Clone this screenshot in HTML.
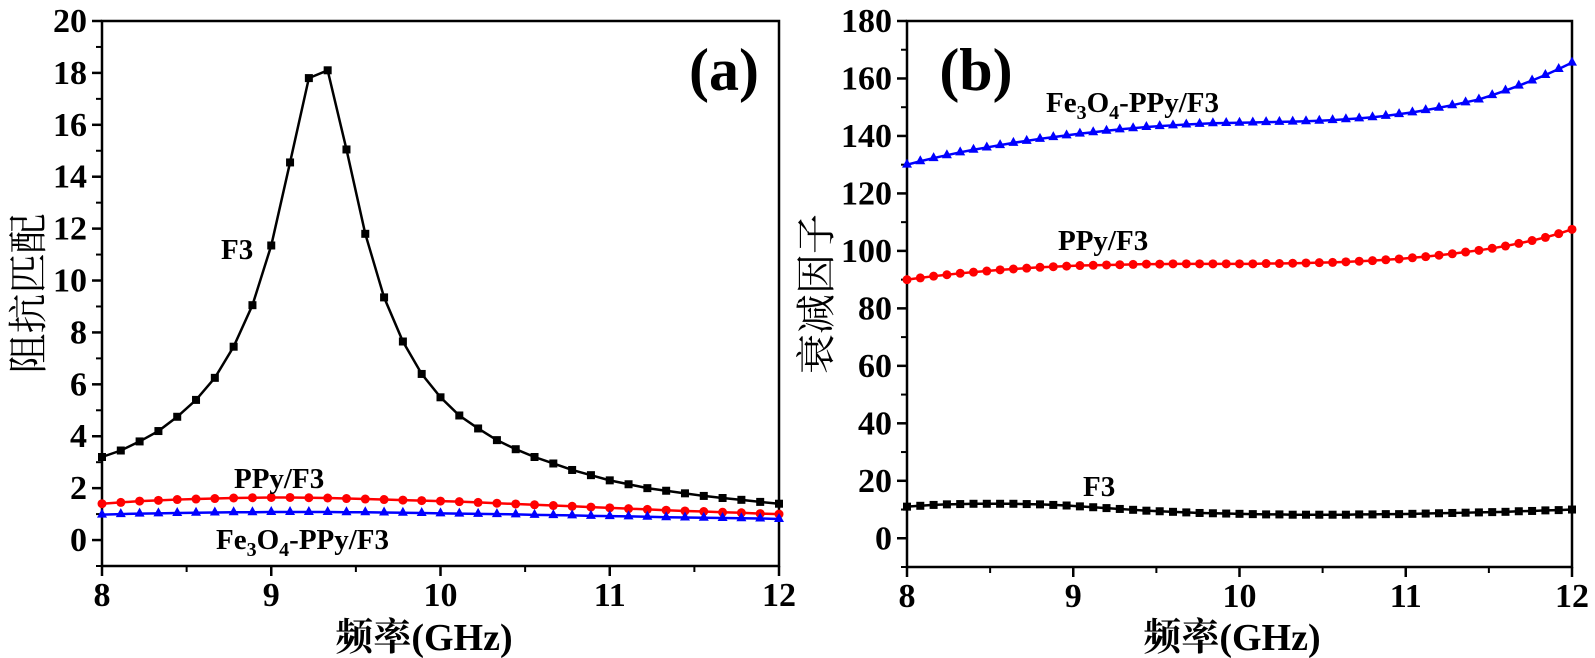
<!DOCTYPE html>
<html><head><meta charset="utf-8">
<style>
html,body{margin:0;padding:0;background:#fff;}
svg{display:block;}
text{font-family:"Liberation Serif","Noto Serif CJK SC",serif;}
</style></head>
<body>
<svg id="fig" width="1595" height="658" viewBox="0 0 1595 658" xmlns="http://www.w3.org/2000/svg"></svg>
<script>
// ---- data (a) ----
const xA0 = 8, xA1 = 12, nA = 37;
const aF3 = [3.2,3.45,3.8,4.2,4.75,5.4,6.25,7.45,9.05,11.35,14.55,17.8,18.1,15.05,11.8,9.35,7.65,6.4,5.5,4.8,4.3,3.85,3.5,3.2,2.95,2.7,2.5,2.3,2.15,2.0,1.9,1.8,1.7,1.62,1.55,1.47,1.4];
const aPPy = [1.4,1.45,1.5,1.53,1.56,1.58,1.6,1.62,1.63,1.64,1.64,1.63,1.62,1.6,1.58,1.56,1.54,1.52,1.5,1.48,1.45,1.42,1.39,1.36,1.33,1.3,1.27,1.24,1.21,1.18,1.15,1.12,1.1,1.07,1.05,1.02,1.0];
const aFe = [0.98,1.0,1.02,1.03,1.04,1.05,1.06,1.07,1.07,1.08,1.08,1.08,1.08,1.07,1.07,1.06,1.05,1.04,1.03,1.02,1.01,1.0,0.99,0.97,0.96,0.95,0.93,0.92,0.91,0.9,0.88,0.87,0.86,0.85,0.84,0.83,0.81];
const aYTicks = [0,2,4,6,8,10,12,14,16,18,20];
const xTicks = [8,9,10,11,12];
// ---- data (b) ----
const bFe = [130.0,131.2,132.3,133.3,134.3,135.2,136.0,136.8,137.6,138.3,139.0,139.6,140.2,140.8,141.3,141.8,142.3,142.7,143.1,143.4,143.7,144.0,144.2,144.4,144.5,144.6,144.7,144.8,144.9,145.0,145.1,145.3,145.5,145.8,146.1,146.5,147.0,147.6,148.2,149.0,149.8,150.7,151.7,152.7,154.2,155.8,157.5,159.3,161.2,163.3,165.5];
const bPPy = [90.0,90.6,91.2,91.7,92.2,92.6,93.0,93.4,93.7,94.0,94.3,94.5,94.7,94.9,95.0,95.1,95.2,95.3,95.4,95.4,95.5,95.5,95.5,95.5,95.5,95.5,95.5,95.6,95.6,95.7,95.8,95.9,96.0,96.2,96.4,96.6,96.9,97.2,97.6,98.0,98.5,99.0,99.6,100.2,100.9,101.7,102.6,103.6,104.7,106.0,107.5];
const bF3 = [11.0,11.3,11.6,11.8,11.9,12.0,12.0,12.0,12.0,11.9,11.8,11.6,11.4,11.1,10.8,10.5,10.2,9.9,9.6,9.4,9.2,9.0,8.8,8.7,8.6,8.5,8.4,8.3,8.3,8.2,8.2,8.2,8.2,8.2,8.3,8.3,8.4,8.4,8.5,8.6,8.7,8.8,8.9,9.0,9.1,9.2,9.4,9.5,9.7,9.8,10.0];
const bYTicks = [0,20,40,60,80,100,120,140,160,180];

const NS = "http://www.w3.org/2000/svg";
const svg = document.getElementById('fig');
function mk(tag, attrs, parent, txt){
  const e = document.createElementNS(NS, tag);
  for (const k in attrs) e.setAttribute(k, attrs[k]);
  if (txt !== undefined) e.textContent = txt;
  (parent||svg).appendChild(e);
  return e;
}

function panel(cfg){
  const g = mk('g', {});
  
  
  const L=cfg.L,R=cfg.R,T=cfg.T,B=cfg.B;
  const sx = v => L + (v - 8) / 4 * (R - L);
  const sy = v => B - (v - cfg.ymin) / (cfg.ymax - cfg.ymin) * (B - T);
  const box = mk('rect', {x:L,y:T,width:R-L,height:B-T,fill:'none',stroke:'#000','stroke-width':2.5}, g);
  
  
  xTicks.forEach((t,i) => {
    const x = sx(t);
    mk('line',{x1:x,y1:B,x2:x,y2:B+10,stroke:'#000','stroke-width':2.5},g);
    if (i < xTicks.length-1){ const xm = sx(t+0.5); mk('line',{x1:xm,y1:B,x2:xm,y2:B+6,stroke:'#000','stroke-width':2},g); }
    const tl = mk('text',{x:x,y:B+40,'text-anchor':'middle','font-size':34,'font-weight':'bold'},g,String(t));
    
    
  });
  cfg.yTicks.forEach((t,i) => {
    const y = sy(t);
    mk('line',{x1:L,y1:y,x2:L-10,y2:y,stroke:'#000','stroke-width':2.5},g);
    const ym = sy(t + cfg.ystep/2);
    if (ym >= T-1) mk('line',{x1:L,y1:ym,x2:L-6,y2:ym,stroke:'#000','stroke-width':2},g);
    const yb = sy(t - cfg.ystep/2);
    if (i===0 && yb <= B) mk('line',{x1:L,y1:yb,x2:L-6,y2:yb,stroke:'#000','stroke-width':2},g);
    const tl = mk('text',{x:L-15,y:y+11,'text-anchor':'end','font-size':34,'font-weight':'bold'},g,String(t));
    
    
  });
  cfg.series.forEach(s => {
    const n = s.vals.length;
    const pts = s.vals.map((v,i)=>[sx(8 + 4*i/(n-1)), sy(v)]);
    const pl = mk('polyline',{points:pts.map(p=>p.join(',')).join(' '),fill:'none',stroke:s.color,'stroke-width':2.5},g);
    
    
    pts.forEach(p => {
      let m;
      if (s.marker==='sq') m = mk('rect',{x:p[0]-4,y:p[1]-4,width:8,height:8,fill:s.color},g);
      else if (s.marker==='ci') m = mk('circle',{cx:p[0],cy:p[1],r:4.5,fill:s.color},g);
      else m = mk('polygon',{points:`${p[0]},${p[1]-6} ${p[0]-5},${p[1]+3} ${p[0]+5},${p[1]+3}`,fill:s.color},g);
      
      
    });
  });
  const xl = mk('text',{x:cfg.xtx,y:650,'text-anchor':'middle','font-size':38,'font-weight':'bold'},g,'频率(GHz)');
  
  
  const yl = mk('text',{x:0,y:0,'text-anchor':'middle','font-size':40,transform:`translate(${cfg.ylx},${(T+B)/2}) rotate(-90)`},g,cfg.ylabel);
  
  
  const pt = mk('text',{x:cfg.plx,y:90,'text-anchor':'middle','font-size':60,'font-weight':'bold'},g,cfg.plabel);
  
  
  cfg.labels.forEach(lb => {
    const t = mk('text',{x:lb.x,y:lb.y,'font-size':29,'font-weight':'bold'},g);
    
    
    if (lb.fe){
      t.appendChild(document.createTextNode('Fe'));
      mk('tspan',{'font-size':20,dy:7},t,'3');
      mk('tspan',{dy:-7},t,'O');
      mk('tspan',{'font-size':20,dy:7},t,'4');
      mk('tspan',{dy:-7},t,'-PPy/F3');
    } else t.textContent = lb.text;
  });
}

panel({name:'panel-a',L:102,R:779,T:21,B:566,ymin:-1,ymax:20,ystep:2,yTicks:aYTicks,
  ylabel:'阻抗匹配',ylx:42,plabel:'(a)',plx:724,xtx:424,
  series:[{name:'f3',vals:aF3,color:'#000',marker:'sq'},{name:'ppy-f3',vals:aPPy,color:'#f00',marker:'ci'},{name:'fe3o4-ppy-f3',vals:aFe,color:'#00f',marker:'tr'}],
  labels:[{name:'f3-label',x:221,y:259,text:'F3'},{name:'ppy-f3-label',x:234,y:488,text:'PPy/F3'},{name:'fe3o4-label',x:216,y:549,fe:true}]});
panel({name:'panel-b',L:907,R:1572,T:21,B:567,ymin:-10,ymax:180,ystep:20,yTicks:bYTicks,
  ylabel:'衰减因子',ylx:830,plabel:'(b)',plx:976,xtx:1232,
  series:[{name:'f3',vals:bF3,color:'#000',marker:'sq'},{name:'ppy-f3',vals:bPPy,color:'#f00',marker:'ci'},{name:'fe3o4-ppy-f3',vals:bFe,color:'#00f',marker:'tr'}],
  labels:[{name:'fe3o4-label',x:1046,y:112,fe:true},{name:'ppy-f3-label',x:1058,y:250,text:'PPy/F3'},{name:'f3-label',x:1083,y:496,text:'F3'}]});
</script>
</body></html>
